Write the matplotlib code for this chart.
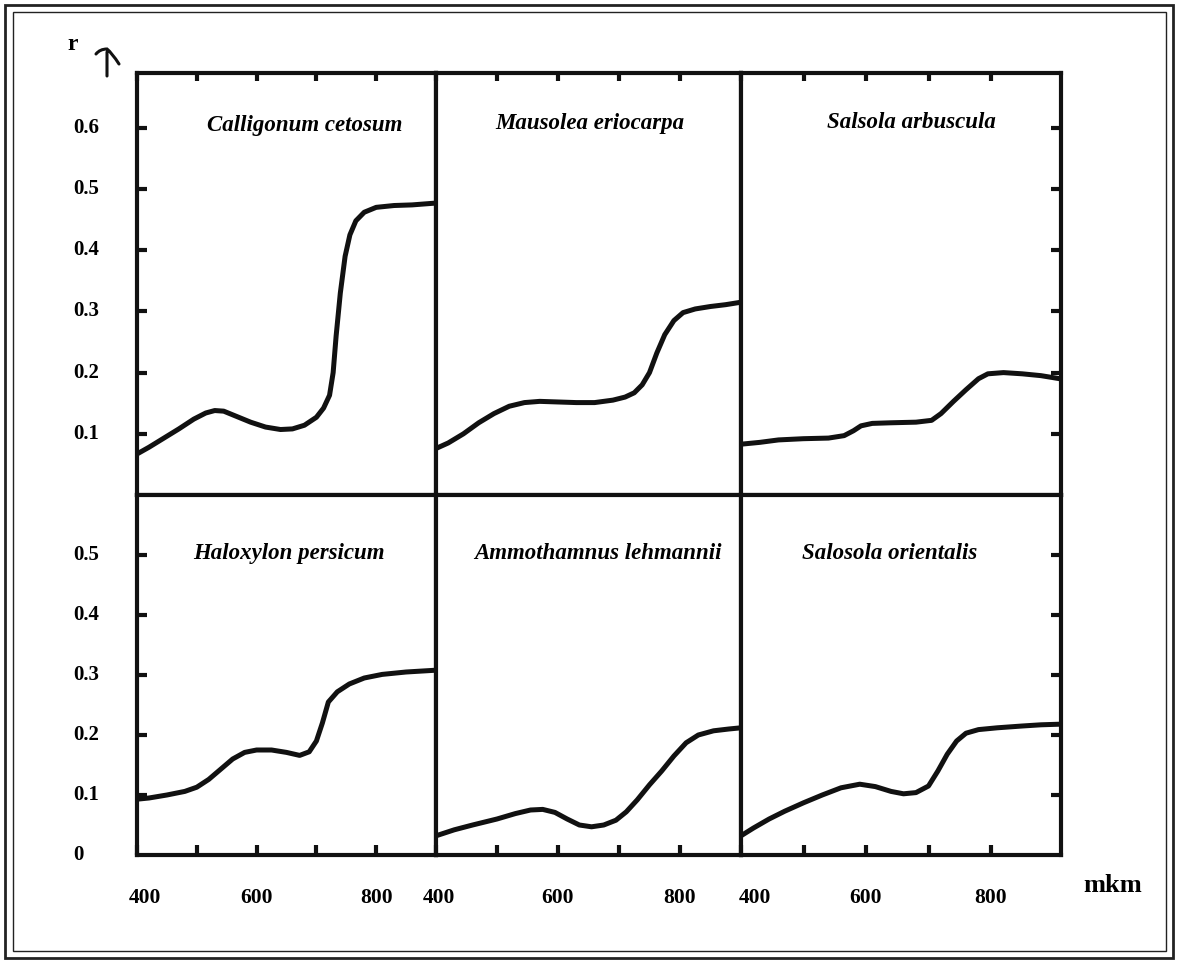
import matplotlib
matplotlib.use("Agg")
import matplotlib.pyplot as plt
from matplotlib.transforms import blended_transform_factory, ScaledTranslation
from matplotlib.path import Path
from matplotlib.patches import PathPatch, Rectangle

# ---- spectral reflectance curves (wavelength in nm, reflectance r) ----
calligonum_wl = [400, 420, 445, 470, 495, 515, 530, 545, 565, 590, 615, 640, 660, 680, 700, 712,
                 722, 728, 733, 740, 748, 756, 766, 780, 800, 830, 860, 900]
calligonum_r = [0.067, 0.078, 0.093, 0.108, 0.124, 0.134, 0.138, 0.137, 0.129, 0.119, 0.111, 0.107,
                0.108, 0.114, 0.127, 0.142, 0.163, 0.2, 0.26, 0.33, 0.39, 0.425, 0.448, 0.462,
                0.47, 0.473, 0.474, 0.477]

mausolea_wl = [400, 420, 445, 470, 495, 520, 545, 570, 600, 630, 660, 690, 710, 725, 738, 750,
               762, 775, 790, 805, 825, 850, 875, 900]
mausolea_r = [0.076, 0.085, 0.1, 0.118, 0.133, 0.145, 0.151, 0.153, 0.152, 0.151, 0.151, 0.155,
              0.16, 0.167, 0.18, 0.2, 0.232, 0.262, 0.285, 0.298, 0.304, 0.308, 0.311, 0.315]

salsola_wl = [400, 430, 460, 500, 540, 565, 580, 592, 610, 640, 680, 705, 720, 740, 760, 780,
              795, 820, 850, 880, 910]
salsola_r = [0.083, 0.086, 0.09, 0.092, 0.093, 0.097, 0.105, 0.113, 0.117, 0.118, 0.119, 0.122,
             0.133, 0.153, 0.172, 0.19, 0.198, 0.2, 0.198, 0.195, 0.19]

haloxylon_wl = [400, 420, 450, 480, 500, 520, 540, 560, 580, 600, 625, 650, 672, 688, 700, 710,
                720, 735, 755, 780, 810, 850, 900]
haloxylon_r = [0.093, 0.095, 0.1, 0.106, 0.113, 0.126, 0.143, 0.16, 0.171, 0.175, 0.175, 0.171,
               0.166, 0.172, 0.19, 0.22, 0.255, 0.272, 0.285, 0.295, 0.301, 0.305, 0.308]

ammothamnus_wl = [400, 430, 460, 500, 530, 555, 575, 595, 615, 635, 655, 675, 695, 712, 730, 750,
                  770, 790, 810, 830, 855, 880, 900]
ammothamnus_r = [0.032, 0.042, 0.05, 0.06, 0.069, 0.075, 0.076, 0.071, 0.06, 0.05, 0.047, 0.05,
                 0.058, 0.072, 0.092, 0.117, 0.14, 0.165, 0.187, 0.2, 0.207, 0.21, 0.212]

orientalis_wl = [400, 420, 445, 470, 500, 530, 560, 590, 615, 640, 660, 680, 700, 715, 730, 745,
                 760, 780, 810, 850, 880, 910]
orientalis_r = [0.032, 0.045, 0.06, 0.073, 0.087, 0.1, 0.112, 0.118, 0.114, 0.106, 0.102, 0.104,
                0.115, 0.14, 0.168, 0.19, 0.203, 0.209, 0.212, 0.215, 0.217, 0.218]

titles = ["Calligonum cetosum", "Mausolea eriocarpa", "Salsola arbuscula",
          "Haloxylon persicum", "Ammothamnus lehmannii", "Salosola orientalis"]

x_ticks = [400, 500, 600, 700, 800]
x_tick_labels = ["400", "", "600", "", "800"]
top_y_ticks = [0.1, 0.2, 0.3, 0.4, 0.5, 0.6]
top_y_labels = ["0.1", "0.2", "0.3", "0.4", "0.5", "0.6"]
bottom_y_ticks = [0.1, 0.2, 0.3, 0.4, 0.5]
bottom_y_label_values = [0.0, 0.1, 0.2, 0.3, 0.4, 0.5]
bottom_y_labels = ["0", "0.1", "0.2", "0.3", "0.4", "0.5"]

W, H = 1185, 963
fig = plt.figure(figsize=(W / 100, H / 100), dpi=100)
fig.patch.set_facecolor("white")

SERIF = ["Liberation Serif", "DejaVu Serif"]
INK = "#111111"

# panel edges in pixels
col_edges = [(137, 436), (436, 741), (741, 1061)]
row_edges = [(72.7, 495), (495, 855)]
x_limits = [(400, 900), (400, 900), (400, 912)]
y_limits = [(0, 0.69), (0, 0.6)]
first_label_shift = [8, 3, 14]

curves = [(calligonum_wl, calligonum_r), (mausolea_wl, mausolea_r), (salsola_wl, salsola_r),
          (haloxylon_wl, haloxylon_r), (ammothamnus_wl, ammothamnus_r), (orientalis_wl, orientalis_r)]

title_pos = [(305, 125), (590, 123), (911, 123), (289, 553), (598, 553), (890, 553)]

axes = []
for r in range(2):
    for c in range(3):
        x0, x1 = col_edges[c]
        y0, y1 = row_edges[r]
        ax = fig.add_axes([x0 / W, 1 - y1 / H, (x1 - x0) / W, (y1 - y0) / H])
        ax.set_xlim(*x_limits[c])
        ax.set_ylim(*y_limits[r])
        for s in ax.spines.values():
            s.set_linewidth(3.0)
            s.set_color(INK)
        idx = r * 3 + c
        wl, rv = curves[idx]
        ax.plot(wl, rv, color=INK, lw=3.6, solid_capstyle="round", solid_joinstyle="round")
        ax.text(title_pos[idx][0] / W, 1 - title_pos[idx][1] / H, titles[idx],
                transform=fig.transFigure, ha="center", va="center",
                fontsize=16.5, fontweight="bold", fontstyle="italic", family=SERIF)

        # wavelength ticks: top edge for the upper row, bottom edge for the lower row
        ax.set_xticks(x_ticks)
        if r == 0:
            ax.tick_params(axis="x", direction="in", bottom=False, top=True,
                           labelbottom=False, length=6, width=3, color=INK)
        else:
            ax.set_xticklabels(x_tick_labels)
            ax.tick_params(axis="x", direction="in", bottom=True, top=False,
                           labelbottom=True, length=7, width=3, color=INK, pad=24,
                           labelsize=15.5)
            for lab in ax.get_xticklabels():
                lab.set_fontfamily(SERIF)
                lab.set_fontweight("bold")
            first = ax.get_xticklabels()[0]
            first.set_transform(first.get_transform()
                                + ScaledTranslation(first_label_shift[c] / 100, 0, fig.dpi_scale_trans))

        ax.set_yticks(top_y_ticks if r == 0 else bottom_y_ticks)
        ax.tick_params(axis="y", direction="in", left=(c == 0), right=(c == 2),
                       labelleft=False, labelright=False, length=7, width=3, color=INK)
        axes.append(ax)

# reflectance labels along the left margin
for ax, vals, labs in [(axes[0], top_y_ticks, top_y_labels),
                       (axes[3], bottom_y_label_values, bottom_y_labels)]:
    tr = blended_transform_factory(fig.transFigure, ax.transData)
    for v, lab in zip(vals, labs):
        ax.text(73 / W, v, lab, transform=tr, ha="left", va="center",
                fontsize=15, fontweight="bold", family=SERIF, clip_on=False)

# axis captions
fig.text(73 / W, 1 - 45 / H, "r", ha="center", va="center", fontsize=17,
         fontweight="bold", family=SERIF)
fig.text(1113 / W, 1 - 886 / H, "mkm", ha="center", va="center", fontsize=19,
         fontweight="bold", family=SERIF)


def px(x, y):
    return (x / W, 1 - y / H)


# hand-drawn upward arrow next to "r"
arrow_path = Path([px(107, 76), px(107, 52),
                   px(96, 54), px(100, 49), px(107, 49), px(112, 53), px(119, 64)],
                  [Path.MOVETO, Path.LINETO,
                   Path.MOVETO, Path.CURVE3, Path.CURVE3, Path.CURVE3, Path.CURVE3])
fig.add_artist(PathPatch(arrow_path, transform=fig.transFigure, fill=False,
                         lw=2.2, edgecolor=INK, capstyle="round"))

# double page frame
fig.add_artist(Rectangle(px(5, 958), 1168 / W, 953 / H, transform=fig.transFigure,
                         fill=False, lw=2.0, edgecolor="#222222"))
fig.add_artist(Rectangle(px(13, 951), 1153 / W, 939 / H, transform=fig.transFigure,
                         fill=False, lw=1.0, edgecolor="#222222"))

fig.savefig("out.png", dpi=100, facecolor="white")
